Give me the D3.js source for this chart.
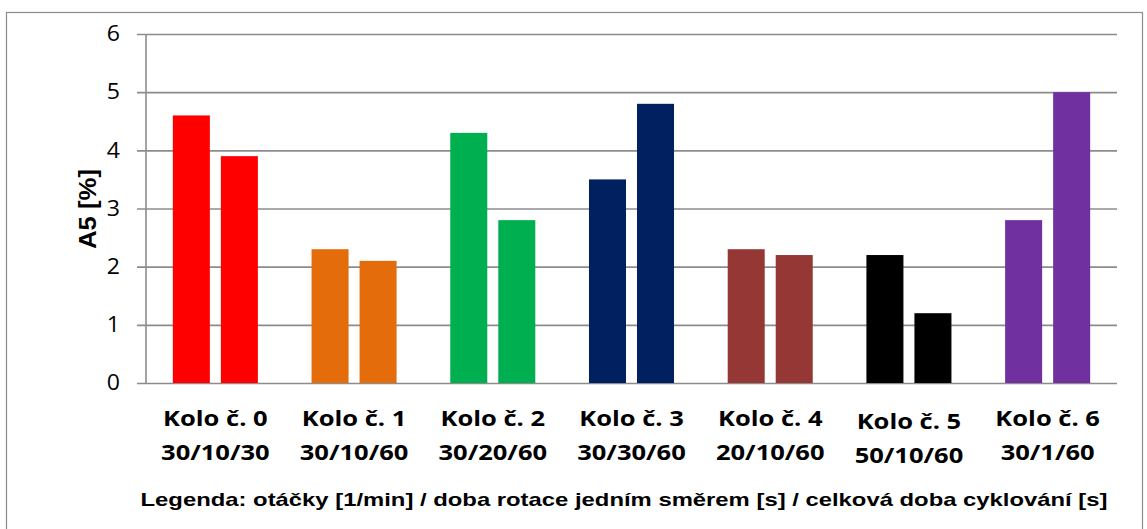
<!DOCTYPE html>
<html>
<head>
<meta charset="utf-8">
<script src="https://cdn.jsdelivr.net/npm/d3@7"></script>
<style>
  html, body { margin: 0; padding: 0; background: #fff; }
  svg { display: block; }
</style>
</head>
<body>
<svg id="chart" width="1147" height="529"></svg>
<script>
// Kola (rounds) and their parameter strings
const categories = ["Kolo č. 0", "Kolo č. 1", "Kolo č. 2", "Kolo č. 3", "Kolo č. 4", "Kolo č. 5", "Kolo č. 6"];
const settings = ["30/10/30", "30/10/60", "30/20/60", "30/30/60", "20/10/60", "50/10/60", "30/1/60"];
// Two measurements of A5 [%] per round
const firstValues  = [4.6, 2.3, 4.3, 3.5, 2.3, 2.2, 2.8];
const secondValues = [3.9, 2.1, 2.8, 4.8, 2.2, 1.2, 5.0];
const colors = ["#FF0000", "#E46C0A", "#00B050", "#002060", "#953735", "#000000", "#7030A0"];
const yTicks = [0, 1, 2, 3, 4, 5, 6];

const svg = d3.select("#chart");
const sx = 1.16; // horizontal widening of label glyphs

// outer frame
svg.append("rect")
  .attr("x", 6.5).attr("y", 12.5)
  .attr("width", 1136).attr("height", 530)
  .attr("fill", "none").attr("stroke", "#8c8c8c").attr("stroke-width", 1.2);

const plot = { left: 146, right: 1117, top: 34, bottom: 383 };

const x = d3.scaleBand().domain(categories).range([plot.left, plot.right]);
const xi = d3.scaleBand().domain([0, 1]).range([0, x.bandwidth()])
  .paddingInner(0.229).paddingOuter(0.559);
const y = d3.scaleLinear().domain([0, 6]).range([plot.bottom, plot.top]);

// gridlines and tick marks
const yAxis = d3.axisLeft(y).tickValues(yTicks).tickSize(-(plot.right - plot.left)).tickPadding(0).tickFormat(d3.format("d"));
const gy = svg.append("g").attr("transform", `translate(${plot.left},0)`).call(yAxis);
gy.select(".domain").remove();
gy.selectAll(".tick line")
  .attr("x1", -9)
  .attr("stroke", "#8c8c8c").attr("stroke-width", 1.6);
gy.selectAll(".tick text")
  .attr("x", null)
  .attr("transform", `translate(-26,0) scale(1.1,1)`)
  .attr("font-family", "'Open Sans', sans-serif")
  .attr("font-size", 21).attr("fill", "#000");

// vertical axis line
svg.append("line")
  .attr("x1", plot.left).attr("x2", plot.left)
  .attr("y1", plot.top).attr("y2", plot.bottom)
  .attr("stroke", "#8c8c8c").attr("stroke-width", 1.6);

// bars
const rows = categories.map((c, i) => ({ c, i, vals: [firstValues[i], secondValues[i]] }));
const groups = svg.append("g").selectAll("g").data(rows).join("g")
  .attr("transform", d => `translate(${x(d.c)},0)`);
groups.selectAll("rect").data(d => d.vals.map((v, k) => ({ v, k, color: colors[d.i] })))
  .join("rect")
  .attr("x", d => xi(d.k))
  .attr("width", xi.bandwidth())
  .attr("y", d => y(d.v))
  .attr("height", d => y(0) - y(d.v))
  .attr("fill", d => d.color);

// category labels (two lines)
const labels = svg.append("g").selectAll("g").data(rows).join("g")
  .attr("transform", d => `translate(${x(d.c) + x.bandwidth() / 2},0) scale(${sx},1)`);
labels.append("text")
  .attr("text-anchor", "middle")
  .attr("y", d => d.i === 5 ? 429 : 426)
  .attr("font-family", "'Open Sans', sans-serif")
  .attr("font-weight", "bold").attr("font-size", 22).attr("fill", "#000")
  .text(d => d.c);
labels.append("text")
  .attr("text-anchor", "middle")
  .attr("y", d => d.i === 5 ? 463 : 460)
  .attr("font-family", "'Open Sans', sans-serif")
  .attr("font-weight", "bold").attr("font-size", 22).attr("fill", "#000")
  .text(d => settings[d.i]);

// y axis title
svg.append("text")
  .attr("transform", "translate(96,209) rotate(-90)")
  .attr("text-anchor", "middle")
  .attr("font-family", "'Liberation Sans', Arial, sans-serif")
  .attr("font-weight", "bold")
  .attr("font-size", 24)
  .attr("textLength", 80).attr("lengthAdjust", "spacingAndGlyphs")
  .attr("fill", "#000")
  .text("A5 [%]");

// legend line below the axis
svg.append("text")
  .attr("x", 624).attr("y", 506)
  .attr("text-anchor", "middle")
  .attr("font-family", "'Liberation Sans', Arial, sans-serif")
  .attr("font-weight", "bold")
  .attr("font-size", 18.5)
  .attr("textLength", 967).attr("lengthAdjust", "spacingAndGlyphs")
  .attr("fill", "#000")
  .text("Legenda: otáčky [1/min] / doba rotace jedním směrem [s] / celková doba cyklování [s]");
</script>
</body>
</html>
